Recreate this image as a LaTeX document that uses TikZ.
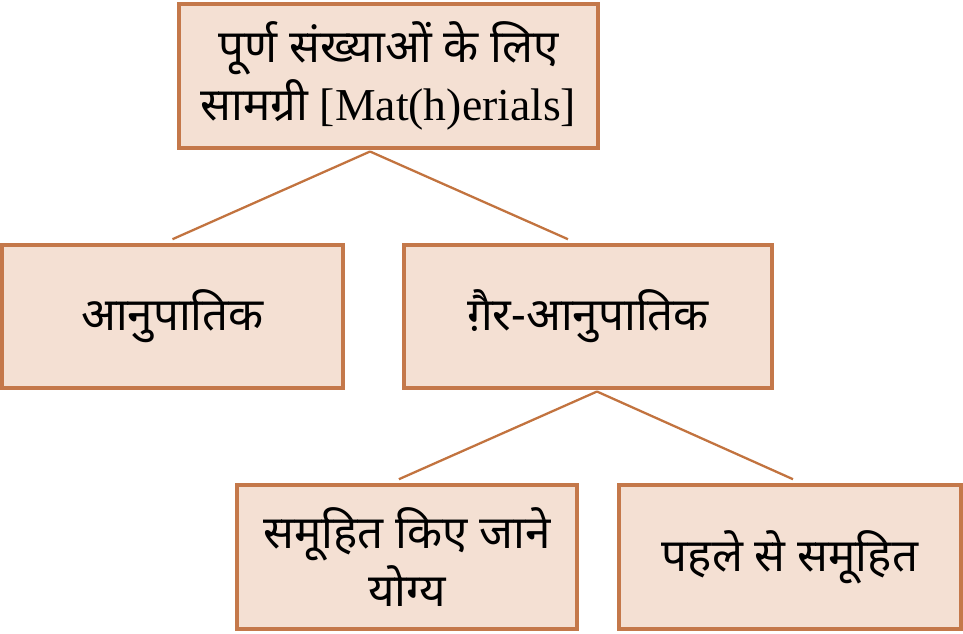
\documentclass[tikz,border=0pt]{standalone}
\usepackage{fontspec}
\setmainfont{Liberation Serif}
\newfontfamily\deva[Script=Devanagari]{Noto Sans}
\usepackage{tikz}
\usetikzlibrary{shapes,arrows}
\definecolor{bbrown}{HTML}{C4784A}
\definecolor{bpeach}{HTML}{F4E0D3}
\definecolor{bline}{HTML}{C2733F}
\tikzstyle{block} = [rectangle, draw=bbrown, fill=bpeach, line width=2pt, align=center, font=\fontsize{26}{33}\selectfont]
\tikzstyle{line} = [draw=bline, line width=1.3pt]

\begin{document}
\begin{tikzpicture}
\useasboundingbox (0, 0) rectangle (19.26, -12.66);
%% top level
\node [block, minimum width=8.38cm, minimum height=2.88cm] at (7.77, -1.52) (root) {{\deva पूर्ण संख्याओं के लिए}\\{\deva सामग्री} [Mat(h)erials]};

%% second level
\node [block, minimum width=6.82cm, minimum height=2.86cm] at (3.45, -6.33) (prop) {\deva आनुपातिक};
\node [block, minimum width=7.36cm, minimum height=2.86cm] at (11.76, -6.33) (nonprop) {\deva ग़ैर-आनुपातिक};
\path [line] ([xshift=-10.5, yshift=-1]root.south) to ([yshift=2.3]prop.north);
\path [line] ([xshift=-10.5, yshift=-1]root.south) to ([xshift=-11.4, yshift=2.3]nonprop.north);

%% third level
\node [block, minimum width=6.8cm, minimum height=2.88cm] at (8.14, -11.14) (groupable) {\deva समूहित किए जाने\\\deva योग्य};
\node [block, minimum width=6.84cm, minimum height=2.88cm] at (15.8, -11.14) (pregrouped) {\deva पहले से समूहित};
\path [line] ([xshift=5.1, yshift=-1]nonprop.south) to ([xshift=-4.6, yshift=2.3]groupable.north);
\path [line] ([xshift=5.1, yshift=-1]nonprop.south) to ([xshift=1.7, yshift=2.3]pregrouped.north);
\end{tikzpicture}
\end{document}
